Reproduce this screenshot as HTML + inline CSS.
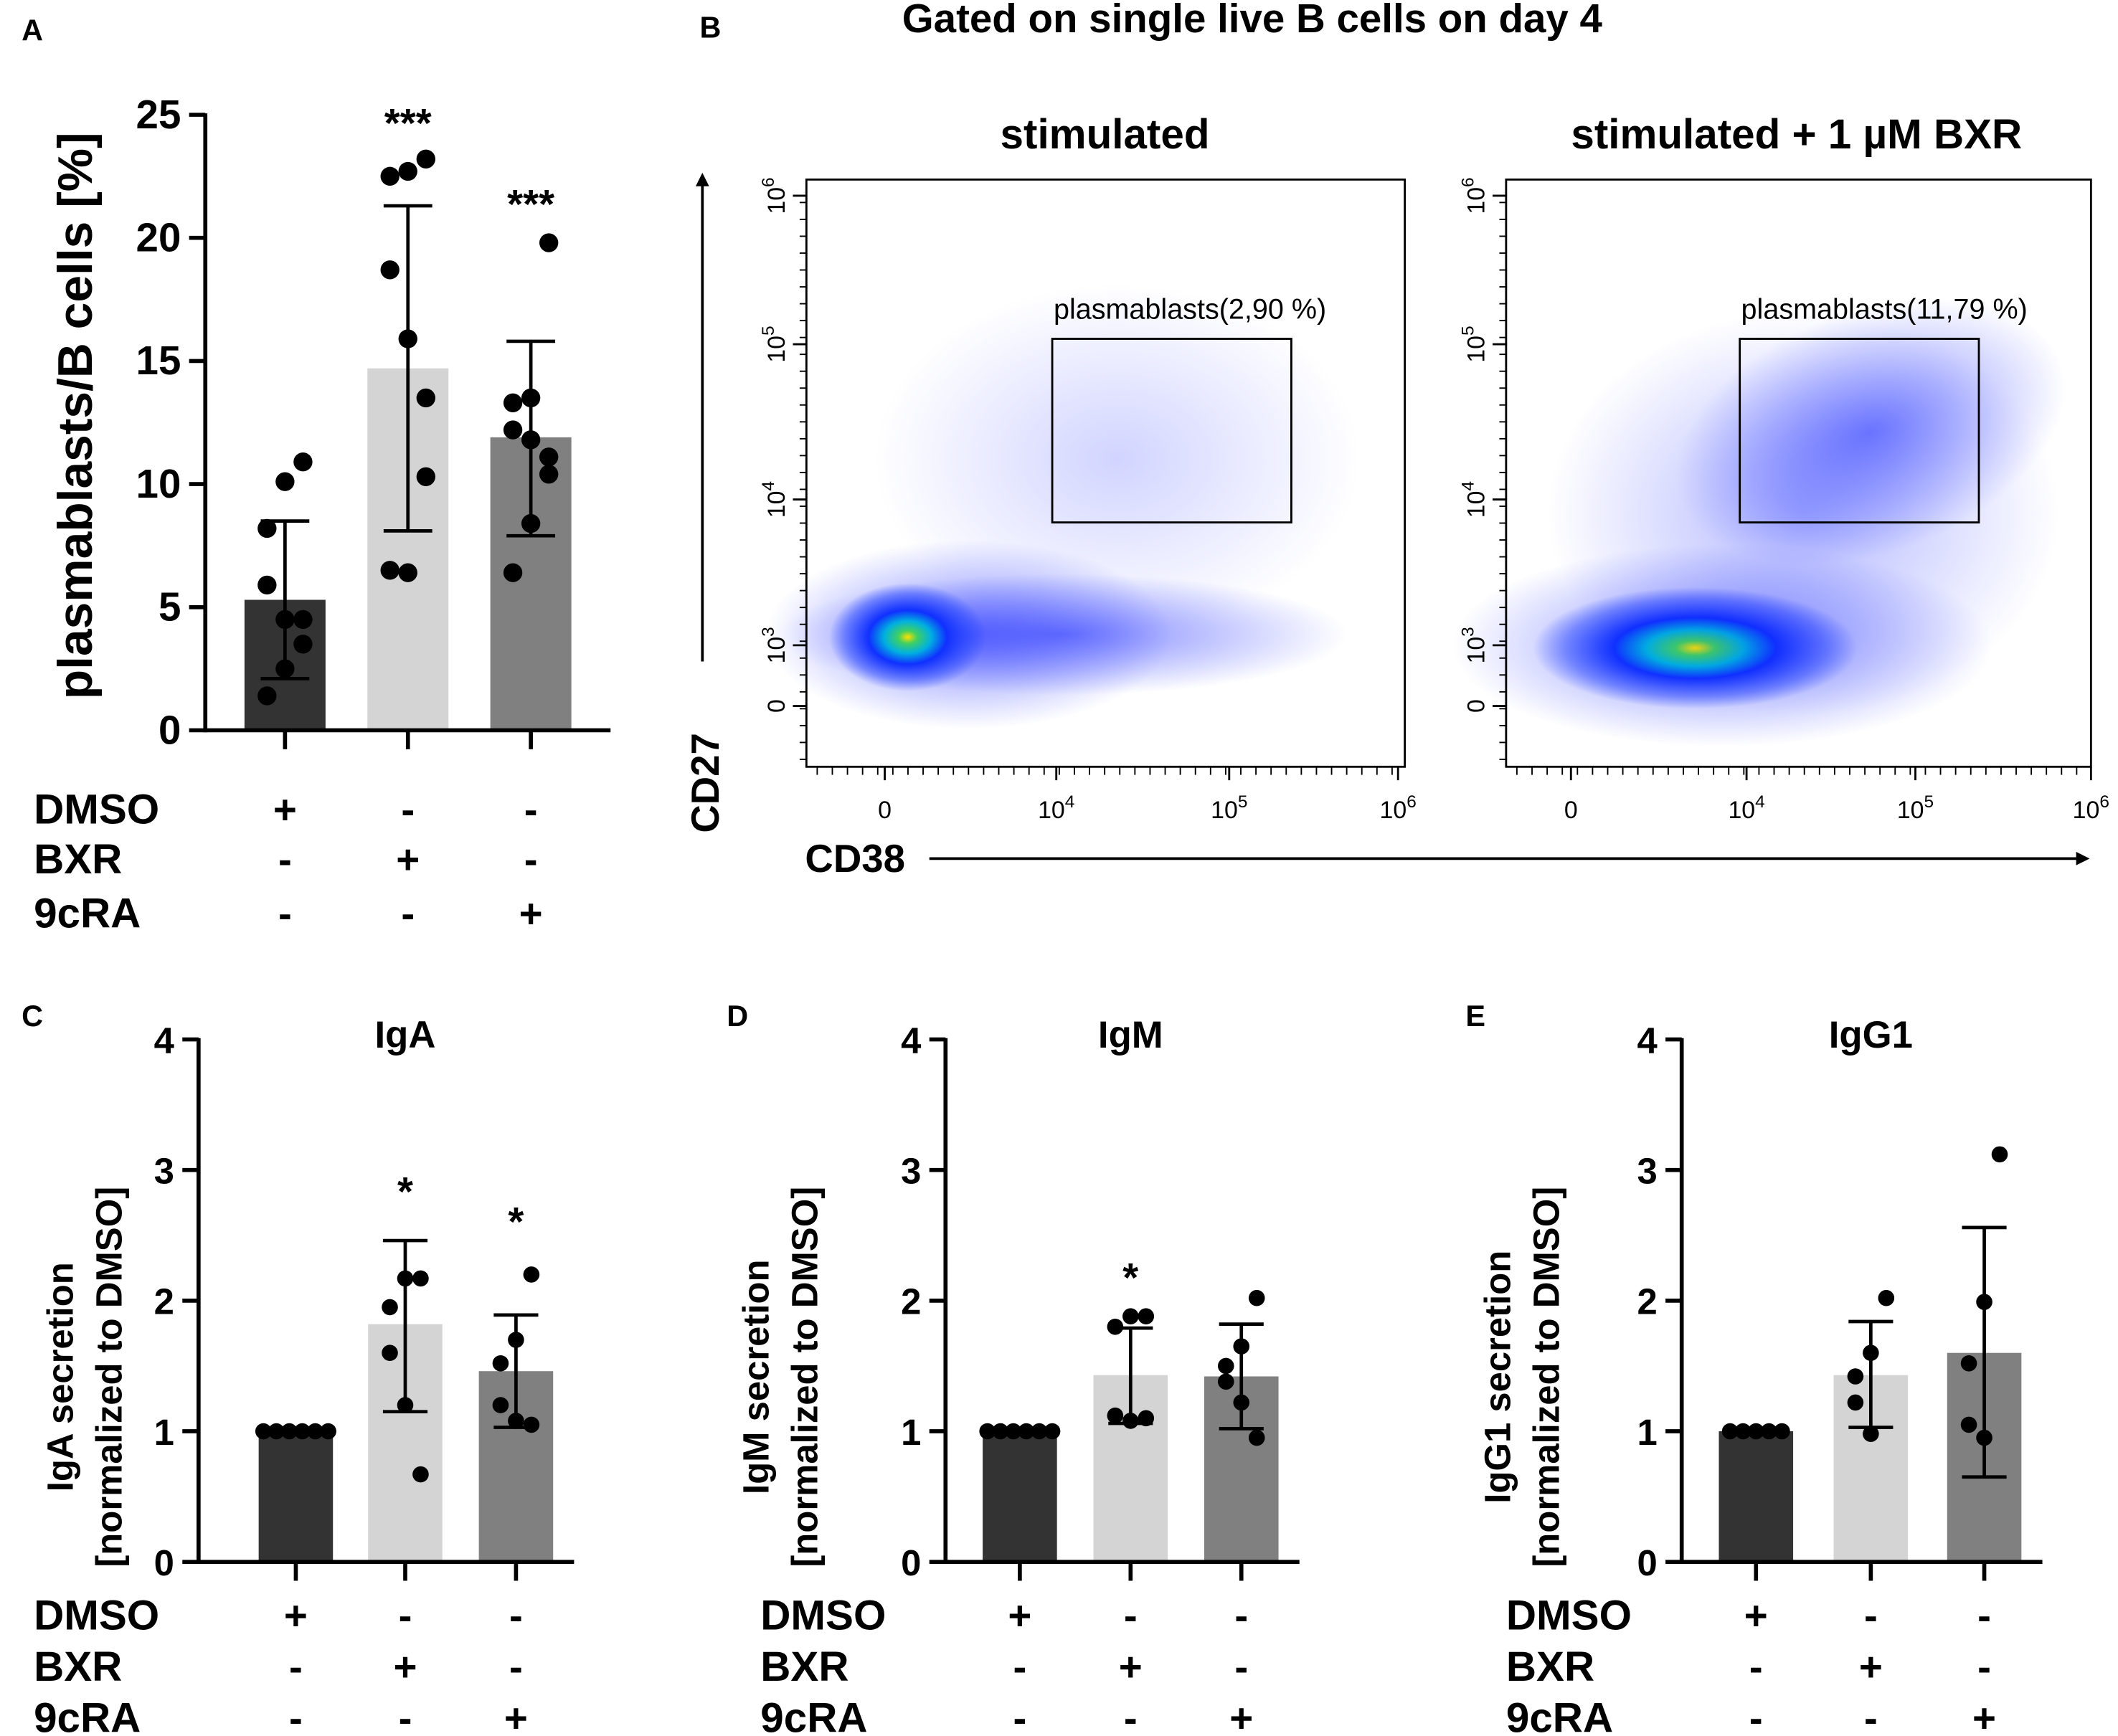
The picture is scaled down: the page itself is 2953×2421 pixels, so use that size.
<!DOCTYPE html>
<html><head><meta charset="utf-8"><style>
html,body{margin:0;padding:0;background:#fff}
svg{display:block;font-family:"Liberation Sans",Arial,sans-serif}
</style></head><body>
<svg id="fig" width="2953" height="2421" viewBox="0 0 1568 1286" preserveAspectRatio="none" xmlns="http://www.w3.org/2000/svg">
<defs>
<radialGradient id="cloud1" cx="50%" cy="50%" r="50%">
<stop offset="0" stop-color="#ffe000"/><stop offset="0.12" stop-color="#40d060"/><stop offset="0.3" stop-color="#00b0e0"/><stop offset="0.5" stop-color="#1030ff"/><stop offset="0.8" stop-color="#2040ff" stop-opacity="0.5"/><stop offset="1" stop-color="#2040ff" stop-opacity="0"/>
</radialGradient>
<radialGradient id="blue" cx="50%" cy="50%" r="50%">
<stop offset="0" stop-color="#1020ff" stop-opacity="0.55"/><stop offset="1" stop-color="#1020ff" stop-opacity="0"/>
</radialGradient>
<marker id="arr" markerWidth="10" markerHeight="10" refX="8" refY="5" orient="auto" markerUnits="userSpaceOnUse"><path d="M0,0 L10,5 L0,10 z" fill="#000"/></marker>
</defs>
<g id="root"></g>
</svg>
<script>
// ---------- Panel A data ----------
const aCats=["DMSO","BXR","9cRA"];
const aMeans=[5.3,14.7,11.9];
const aLow=[2.1,8.1,7.9];
const aHigh=[8.5,21.3,15.8];
const aPts0=[10.9,10.1,8.2,5.9,4.5,4.5,3.5,2.5,1.4];
const aPts1=[23.2,22.7,22.5,18.7,15.9,13.5,10.3,6.4,6.5];
const aPts2=[19.8,13.5,13.3,12.2,11.8,11.1,10.4,8.4,6.4];
const aTicks=[0,5,10,15,20,25];
// ---------- Panel C (IgA) ----------
const cMeans=[1.0,1.82,1.46];
const cLow=[1.0,1.15,1.03];
const cHigh=[1.0,2.46,1.89];
const cPts0=[1,1,1,1,1,1];
const cPts1=[2.17,2.17,1.95,1.6,1.2,0.67];
const cPts2=[2.2,1.7,1.52,1.2,1.08,1.05];
// ---------- Panel D (IgM) ----------
const dMeans=[1.0,1.43,1.42];
const dLow=[1.0,1.06,1.02];
const dHigh=[1.0,1.79,1.82];
const dPts0=[1,1,1,1,1,1];
const dPts1=[1.88,1.88,1.8,1.12,1.08,1.1];
const dPts2=[2.02,1.65,1.5,1.38,1.22,0.95];
// ---------- Panel E (IgG1) ----------
const eMeans=[1.0,1.43,1.6];
const eLow=[1.0,1.03,0.65];
const eHigh=[1.0,1.84,2.56];
const ePts0=[1,1,1,1,1];
const ePts1=[2.02,1.6,1.42,1.22,0.98];
const ePts2=[3.12,1.99,1.52,1.05,0.95];
const secTicks=[0,1,2,3,4];
const signs=[["+","-","-"],["-","+","-"],["-","-","+"]];

const NS="http://www.w3.org/2000/svg";
const root=document.getElementById('root');
function el(tag,attrs,parent,text){const e=document.createElementNS(NS,tag);for(const k in attrs)e.setAttribute(k,attrs[k]);if(text!==undefined)e.textContent=text;(parent||root).appendChild(e);return e;}
const colors=["#333333","#d4d4d4","#808080"];

function barPanel(o){
  const g=el('g',{});
  
  
  const y=v=>o.y0-(v-o.vmin)/(o.vmax-o.vmin)*(o.y0-o.y1);
  o.means.forEach((m,i)=>{
    const r=el('rect',{x:o.centers[i]-o.bw/2,y:y(m),width:o.bw,height:o.y0-y(m),fill:colors[i]},g);
    
    
  });
  o.means.forEach((m,i)=>{
    const cx=o.centers[i],hw=o.bw*0.3;
    const eg=el('g',{stroke:'#000','stroke-width':2.5},g);
    
    
    el('line',{x1:cx,x2:cx,y1:y(o.low[i]),y2:y(o.high[i])},eg);
    el('line',{x1:cx-hw,x2:cx+hw,y1:y(o.high[i]),y2:y(o.high[i])},eg);
    el('line',{x1:cx-hw,x2:cx+hw,y1:y(o.low[i]),y2:y(o.low[i])},eg);
  });
  o.pts.forEach((arr,i)=>{
    const n=arr.length;
    arr.forEach((v,j)=>{
      let off;
      if(o.spreadFlat && i===0){off=(j-(n-1)/2)*o.pr*1.6;}
      else{off=((j%3)-1)*o.pr*1.9*(j%2?1:-1);}
      const c=el('circle',{cx:o.centers[i]+off,cy:y(v),r:o.pr,fill:'#000'},g);
      
      
    });
  });
  const ax=el('g',{stroke:'#000','stroke-width':3},g);
  
  
  el('line',{x1:o.ax,x2:o.ax,y1:o.y1-1,y2:o.y0+1.5},ax);
  el('line',{x1:o.ax,x2:o.xend,y1:o.y0,y2:o.y0},ax);
  o.ticks.forEach(t=>{
    el('line',{x1:o.ax-12,x2:o.ax,y1:y(t),y2:y(t)},ax);
    const tl=el('text',{x:o.ax-18,y:y(t)+10,'text-anchor':'end','font-size':o.tfs,'font-weight':'bold',stroke:'none',fill:'#000'},g,String(t));
    
    
  });
  o.centers.forEach(cx=>el('line',{x1:cx,x2:cx,y1:o.y0,y2:o.y0+14},ax));
  aCats.forEach((c,r)=>{
    const ty=o.tableY[r];
    const lbl=el('text',{x:o.tableX,y:ty,'font-size':31,'font-weight':'bold'},g,c);
    
    
    signs[r].forEach((s,i)=>{
      const st=el('text',{x:o.centers[i],y:ty,'text-anchor':'middle','font-size':30,'font-weight':'bold'},g,s);
      
      
    });
  });
  o.stars.forEach(s=>{
    const st=el('text',{x:o.centers[s.i],y:y(s.v),'text-anchor':'middle','font-size':o.sfs,'font-weight':'bold'},g,s.t);
    
    
  });
  const tt=el('text',{transform:`translate(${o.titleX[0]},${o.titleY}) rotate(-90)`,'text-anchor':'middle','font-size':o.yfs,'font-weight':'bold'},g,o.ytitle[0]);
  
  
  if(o.ytitle[1]){
    const t2=el('text',{transform:`translate(${o.titleX[1]},${o.titleY}) rotate(-90)`,'text-anchor':'middle','font-size':o.yfs,'font-weight':'bold'},g,o.ytitle[1]);
    
    
  }
  if(o.title){
    const ti=el('text',{x:o.centers[1],y:o.y1+6,'text-anchor':'middle','font-size':28,'font-weight':'bold'},g,o.title);
    
    
  }
  const L=el('text',{x:o.letter[0],y:o.letter[1],'font-size':22,'font-weight':'bold'},g,o.letter[2]);
  
  
}

barPanel({name:'panel-a-chart',cats:aCats,means:aMeans,low:aLow,high:aHigh,pts:[aPts0,aPts1,aPts2],
  centers:[211,302,393],bw:60,ax:152,xend:452,y0:541,y1:85,vmin:0,vmax:25,ticks:aTicks,tfs:30,pr:7,
  tableX:25,tableY:[610,647,687],stars:[{i:1,v:24.1,t:'***'},{i:2,v:20.8,t:'***'}],sfs:30,
  ytitle:['plasmablasts/B cells [%]'],titleX:[68],titleY:308,yfs:36,letter:[16,30,'A']});

const secY0=1157,secY1=770;
barPanel({name:'panel-c-iga',cats:aCats,means:cMeans,low:cLow,high:cHigh,pts:[cPts0,cPts1,cPts2],spreadFlat:true,
  centers:[219,300,382],bw:55,ax:147,xend:425,y0:secY0,y1:secY1,vmin:0,vmax:4,ticks:secTicks,tfs:27,pr:6,
  tableX:25,tableY:[1207,1245,1283],stars:[{i:1,v:2.73,t:'*'},{i:2,v:2.5,t:'*'}],sfs:30,
  ytitle:['IgA secretion','[normalized to DMSO]'],titleX:[54,90],titleY:1020,yfs:27,title:'IgA',letter:[16,760,'C']});
barPanel({name:'panel-d-igm',cats:aCats,means:dMeans,low:dLow,high:dHigh,pts:[dPts0,dPts1,dPts2],spreadFlat:true,
  centers:[755,837,919],bw:55,ax:700,xend:962,y0:secY0,y1:secY1,vmin:0,vmax:4,ticks:secTicks,tfs:27,pr:6,
  tableX:563,tableY:[1207,1245,1283],stars:[{i:1,v:2.07,t:'*'}],sfs:30,
  ytitle:['IgM secretion','[normalized to DMSO]'],titleX:[569,605],titleY:1020,yfs:27,title:'IgM',letter:[538,760,'D']});
barPanel({name:'panel-e-igg1',cats:aCats,means:eMeans,low:eLow,high:eHigh,pts:[ePts0,ePts1,ePts2],spreadFlat:true,
  centers:[1300,1385,1469],bw:55,ax:1245,xend:1512,y0:secY0,y1:secY1,vmin:0,vmax:4,ticks:secTicks,tfs:27,pr:6,
  tableX:1115,tableY:[1207,1245,1283],stars:[],sfs:30,
  ytitle:['IgG1 secretion','[normalized to DMSO]'],titleX:[1118,1154],titleY:1020,yfs:27,title:'IgG1',letter:[1085,760,'E']});

// ---------- Panel B (flow plots) ----------
const bYTicks=[["6",145],["5",255],["4",370],["3",478]];
function flowPlot(name,x0,x1,xt,title,titleX,gate,gateLbl,bxr){
  const g=el('g',{});
  
  
  if(!bxr){
    el('ellipse',{cx:x0+120,cy:470,rx:150,ry:70,fill:'url(#blue)'},g);
    el('ellipse',{cx:x0+190,cy:470,rx:210,ry:45,fill:'url(#blue)'},g);
    el('ellipse',{cx:x0+75,cy:472,rx:58,ry:40,fill:'url(#cloud1)'},g);
    el('ellipse',{cx:x0+230,cy:340,rx:180,ry:130,fill:'url(#blue)',opacity:0.35},g);
  } else {
    el('ellipse',{cx:x0+160,cy:478,rx:200,ry:75,fill:'url(#blue)'},g);
    el('ellipse',{cx:x0+140,cy:480,rx:120,ry:45,fill:'url(#cloud1)'},g);
    el('ellipse',{cx:x0+270,cy:320,rx:150,ry:90,fill:'url(#blue)',transform:`rotate(-20 ${x0+270} 320)`},g);
    el('ellipse',{cx:x0+220,cy:380,rx:190,ry:150,fill:'url(#blue)',opacity:0.6},g);
  }
  el('rect',{x:x0,y:133,width:x1-x0,height:435,fill:'none',stroke:'#000','stroke-width':1.5},g);
  const gr=el('rect',{x:gate[0],y:251,width:177,height:136,fill:'none',stroke:'#000','stroke-width':1.5},g);
  
  
  const gl=el('text',{x:gate[0]+1,y:236,'font-size':21},g,gateLbl);
  
  
  const t=el('text',{x:titleX,y:110,'text-anchor':'middle','font-size':31,'font-weight':'bold'},g,title);
  
  
  bYTicks.forEach(([e,py])=>{
    el('line',{x1:x0-10,x2:x0,y1:py,y2:py,stroke:'#000','stroke-width':1.5},g);
    const tl=el('text',{transform:`translate(${x0-16},${py}) rotate(-90)`,'text-anchor':'middle','font-size':18},g);
    el('tspan',{},tl,'10');
    el('tspan',{dy:-8,'font-size':13},tl,e);
  });
  el('line',{x1:x0-10,x2:x0,y1:523,y2:523,stroke:'#000','stroke-width':1.5},g);
  el('text',{transform:`translate(${x0-16},523) rotate(-90)`,'text-anchor':'middle','font-size':18},g,'0');
  for(let k=0;k<34;k++){const py=150+k*12.5;if(py<568)el('line',{x1:x0-5,x2:x0,y1:py,y2:py,stroke:'#000','stroke-width':1},g);}
  xt.forEach((px,i)=>{
    el('line',{x1:px,x2:px,y1:568,y2:578,stroke:'#000','stroke-width':1.5},g);
    const tl=el('text',{x:px,y:606,'text-anchor':'middle','font-size':18},g);
    if(i===0){tl.textContent='0';}else{el('tspan',{},tl,'10');el('tspan',{dy:-8,'font-size':13},tl,String(i+3));}
  });
  for(let k=0;k<40;k++){const px=x0+8+k*11.2;if(px<x1)el('line',{x1:px,x2:px,y1:568,y2:574,stroke:'#000','stroke-width':1},g);}
}
flowPlot('flow-plot-stimulated',597,1040,[655,782,910,1035],'stimulated',818,[779],'plasmablasts(2,90 %)',false);
flowPlot('flow-plot-bxr',1115,1548,[1163,1293,1418,1548],'stimulated + 1 µM BXR',1330,[1288],'plasmablasts(11,79 %)',true);
const bt=el('text',{x:927,y:24,'text-anchor':'middle','font-size':30,'font-weight':'bold'},root,'Gated on single live B cells on day 4');


const bl=el('text',{x:518,y:28,'font-size':22,'font-weight':'bold'},root,'B');


const ya=el('line',{x1:520,y1:490,x2:520,y2:130,stroke:'#000','stroke-width':2,'marker-end':'url(#arr)'});


const yl=el('text',{transform:'translate(532,580) rotate(-90)','text-anchor':'middle','font-size':29,'font-weight':'bold'},root,'CD27');


const xa=el('line',{x1:688,y1:636,x2:1545,y2:636,stroke:'#000','stroke-width':2,'marker-end':'url(#arr)'});


const xl=el('text',{x:596,y:646,'font-size':29,'font-weight':'bold'},root,'CD38');


</script>
</body></html>
